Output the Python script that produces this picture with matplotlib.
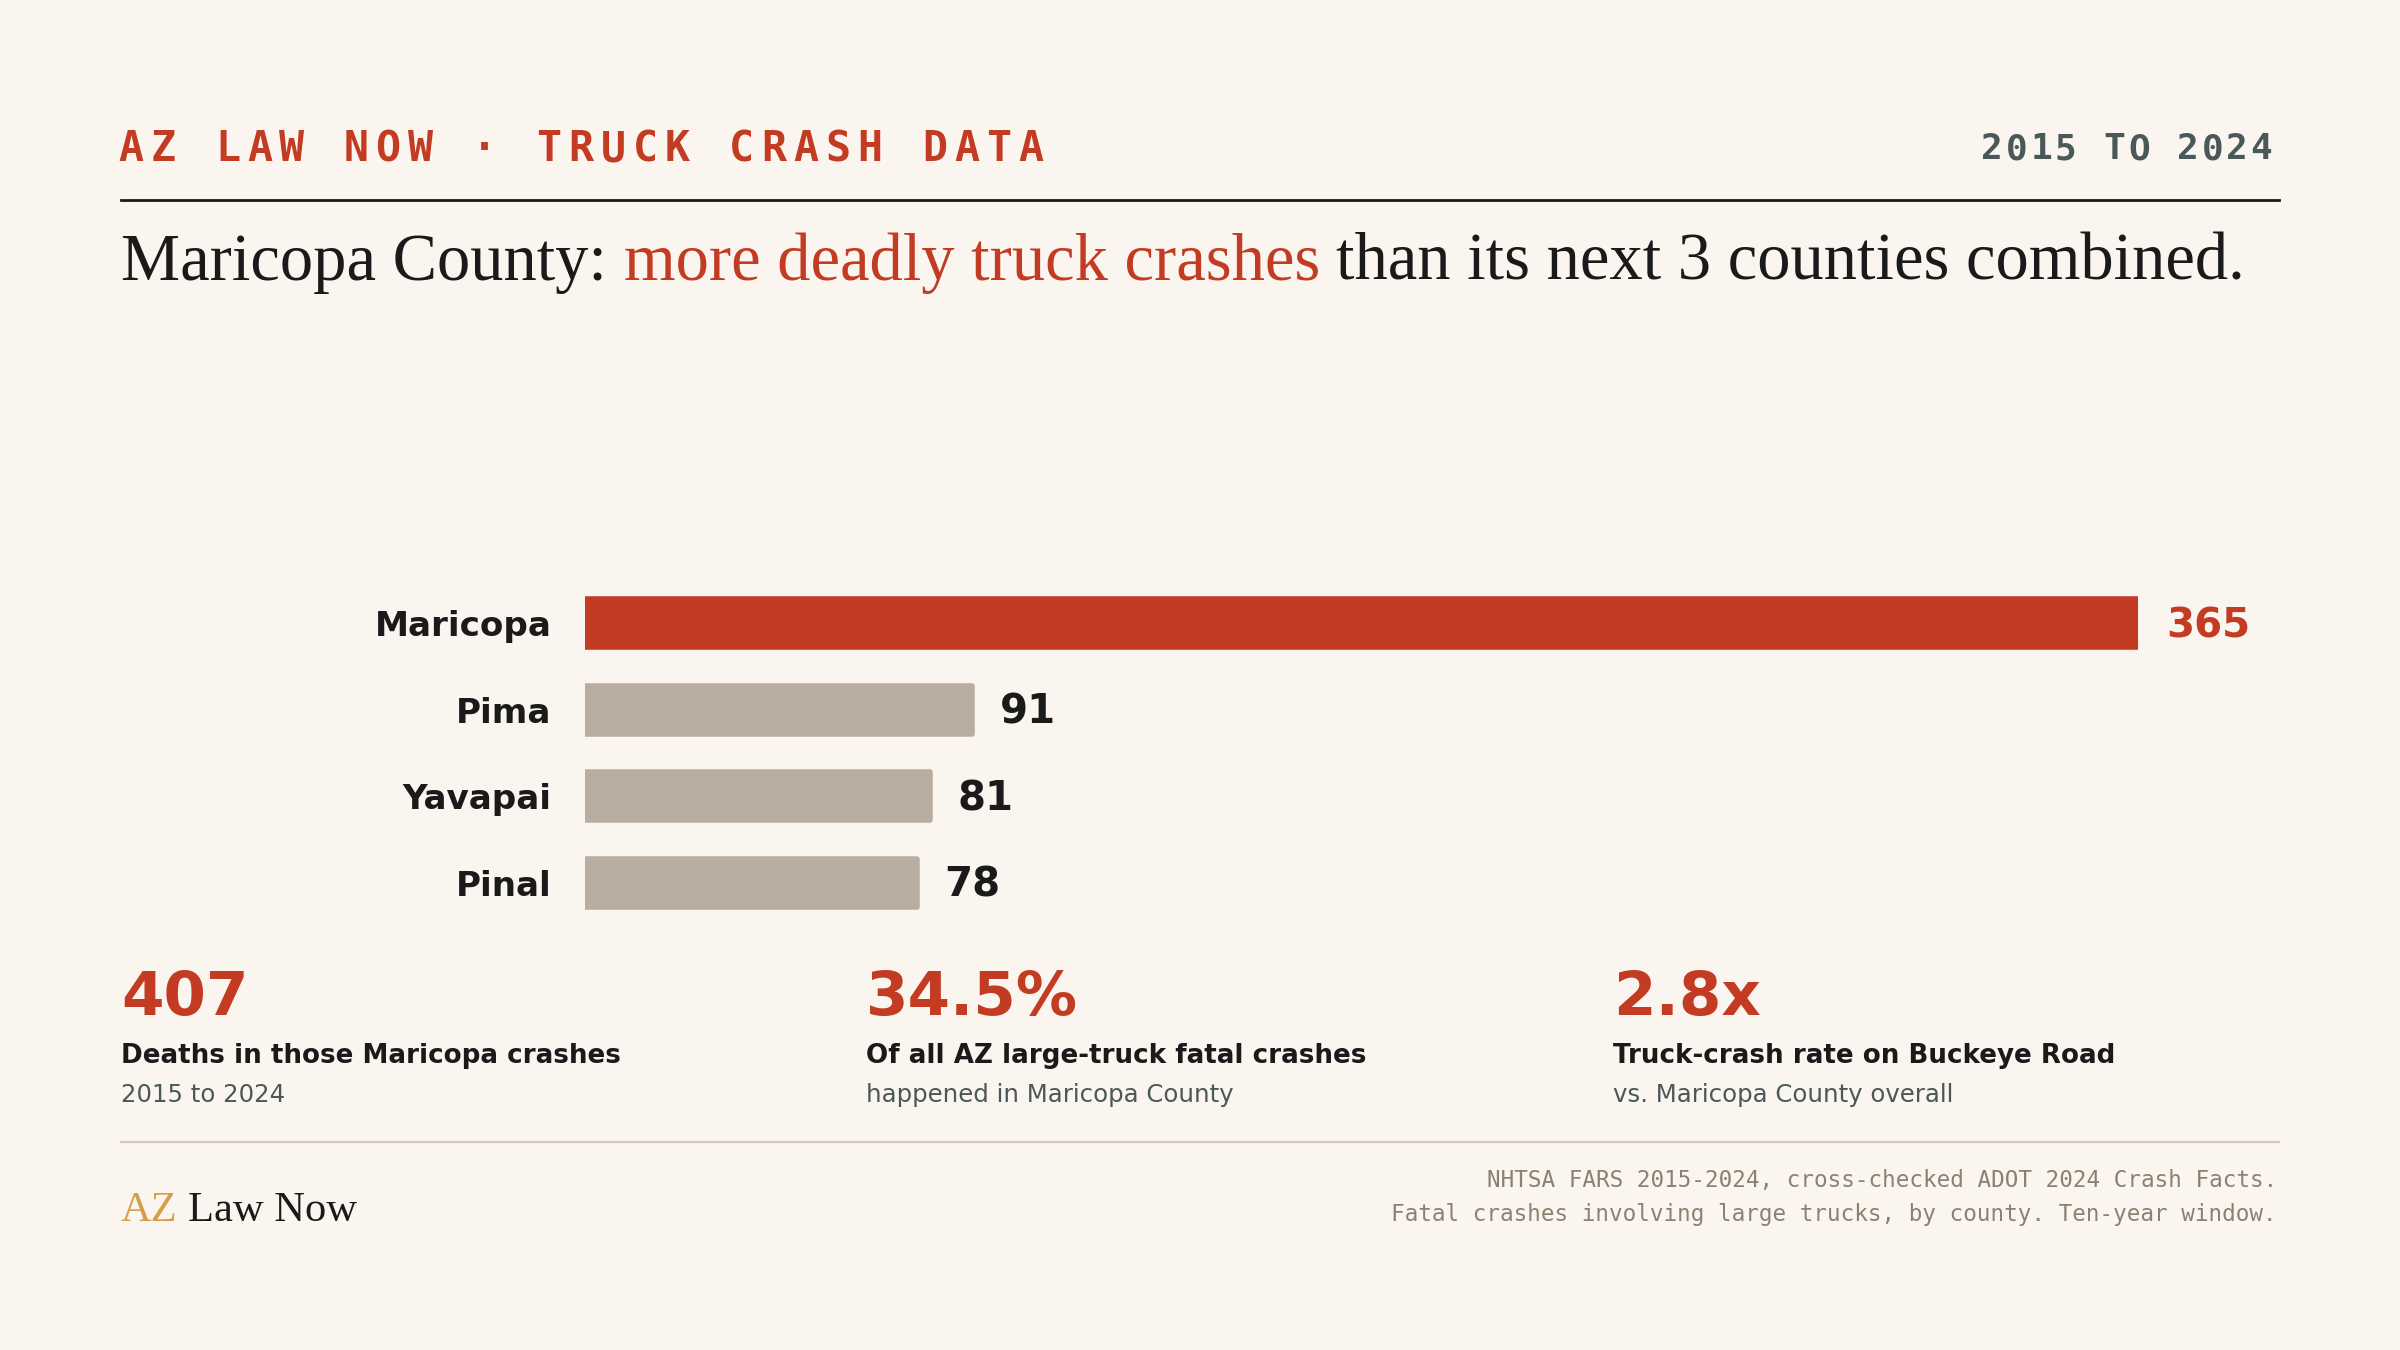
import matplotlib
matplotlib.use('Agg')
import matplotlib.pyplot as plt
from matplotlib.lines import Line2D

# 데이터
counties = ['Maricopa', 'Pima', 'Yavapai', 'Pinal']
crashes = [365, 91, 81, 78]
stat_values = ['407', '34.5%', '2.8x']
stat_titles = ['Deaths in those Maricopa crashes',
               'Of all AZ large-truck fatal crashes',
               'Truck-crash rate on Buckeye Road']
stat_subs = ['2015 to 2024', 'happened in Maricopa County', 'vs. Maricopa County overall']
title_parts = ['Maricopa County:', 'more deadly truck crashes', 'than its next 3 counties combined.']
kicker = 'AZ LAW NOW · TRUCK CRASH DATA'
period = '2015 TO 2024'
source_lines = ['NHTSA FARS 2015-2024, cross-checked ADOT 2024 Crash Facts.',
                'Fatal crashes involving large trucks, by county. Ten-year window.']

BG = '#faf6ef'
RED = '#c23b22'
GREY_BAR = '#b9ada0'
INK = '#1a1a1a'
SLATE = '#4b5859'
TAN = '#8a8170'
GOLD = '#d49f48'

W, H = 2400, 1350
fig = plt.figure(figsize=(12, 6.75), dpi=200, facecolor=BG)
renderer = fig.canvas.get_renderer()


def fx(px):
    return px / W


def fy(py):
    return 1 - py / H


def spaced(text, x0, y, pitch, **kw):
    # 글자 간격 넓힌 텍스트
    for i, ch in enumerate(text):
        if ch != ' ':
            fig.text(fx(x0 + i * pitch), fy(y), ch, ha='center', va='baseline', **kw)


def width_px(s, **kw):
    t = fig.text(0, 0, s, **kw)
    w = t.get_window_extent(renderer).width
    t.remove()
    return w


# 헤더
spaced(kicker, 131, 161, 32.14, family='DejaVu Sans Mono', fontsize=15, fontweight='bold', color=RED)
spaced(period, 1992, 159, 24.5, family='DejaVu Sans Mono', fontsize=13, fontweight='bold', color=SLATE)
fig.add_artist(Line2D([fx(121), fx(2279)], [fy(200), fy(200)], transform=fig.transFigure,
                      color=INK, lw=1.0))

# 제목 (색 나눠서)
serif = dict(family='Liberation Serif')
full = ' '.join(title_parts)
size = 24 * 2123 / width_px(full, fontsize=24, **serif)
space_w = width_px('a a', fontsize=size, **serif) - width_px('aa', fontsize=size, **serif)
x = 121
for part, col in zip(title_parts, [INK, RED, INK]):
    t = fig.text(fx(x), fy(280), part, ha='left', va='baseline', fontsize=size, color=col, **serif)
    x += t.get_window_extent(renderer).width + space_w

# 막대 그래프
ax = fig.add_axes([fx(585), fy(926), fx(2138) - fx(585), (926 - 580) / H])
ax.set_facecolor('none')
ypos = list(range(len(counties)))
colors = [RED] + [GREY_BAR] * (len(counties) - 1)
ax.barh(ypos, crashes, height=0.56, color=colors, edgecolor=colors, linewidth=2, joinstyle='round')
ax.set_xlim(0, 365)
ax.set_ylim(len(counties) - 0.5, -0.5)
ax.set_xticks([])
ax.set_yticks(ypos)
ax.set_yticklabels(counties, fontsize=12.3, fontweight='bold', color=INK)
ax.tick_params(axis='y', length=0, pad=12)
for s in ax.spines.values():
    s.set_visible(False)
for i, v in enumerate(crashes):
    ax.annotate(str(v), (v, i), xytext=(10, -5.1), textcoords='offset points',
                ha='left', va='baseline', fontsize=14.5, fontweight='bold',
                color=RED if i == 0 else INK, annotation_clip=False)

# 하단 통계
cols_x = [121, 866, 1613]
for cx, v, t, s in zip(cols_x, stat_values, stat_titles, stat_subs):
    fig.text(fx(cx), fy(1015), v, fontsize=22, fontweight='bold', color=RED, va='baseline')
    fig.text(fx(cx), fy(1063), t, fontsize=9.4, fontweight='bold', color=INK, va='baseline')
    fig.text(fx(cx), fy(1102), s, fontsize=8.8, color=SLATE, va='baseline')

fig.add_artist(Line2D([fx(121), fx(2279)], [fy(1142), fy(1142)], transform=fig.transFigure,
                      color='#d5cbb8', lw=0.8))

# 로고
t = fig.text(fx(121), fy(1221), 'AZ', fontsize=15.3, color=GOLD, va='baseline', **serif)
lx = 121 + t.get_window_extent(renderer).width + width_px('a a', fontsize=15.3, **serif) - width_px('aa', fontsize=15.3, **serif)
fig.text(fx(lx), fy(1221), 'Law Now', fontsize=15.3, color=INK, va='baseline', **serif)

# 출처
for yy, line in zip([1187, 1221], source_lines):
    fig.text(fx(2277), fy(yy), line, ha='right', va='baseline', family='DejaVu Sans Mono',
             fontsize=8.15, color=TAN)

fig.savefig('out.png', dpi=200, facecolor=BG)
